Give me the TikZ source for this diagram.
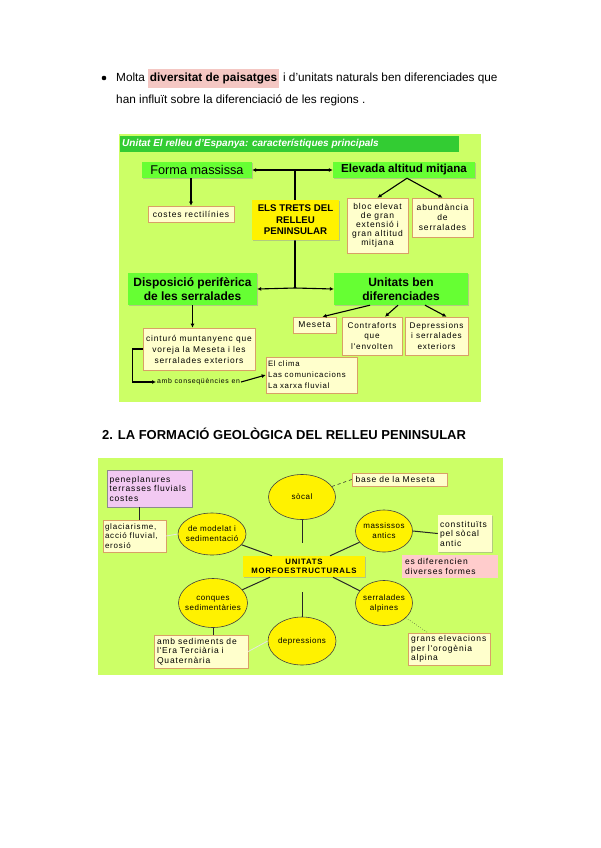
\documentclass[tikz,border=0pt]{standalone}
\usepackage{fontspec}
\setmainfont{Liberation Sans}
\newfontfamily\trk[LetterSpace=10]{Liberation Sans}
\newfontfamily\trke[LetterSpace=6]{Liberation Sans}
\usetikzlibrary{shadows,arrows.meta,shapes.geometric}
\definecolor{bggreen}{HTML}{CCFF66}
\definecolor{titlegreen}{HTML}{33CC33}
\definecolor{hdgreen}{HTML}{66FF33}
\definecolor{cream}{HTML}{FFFFCC}
\definecolor{tanline}{HTML}{D9A066}
\definecolor{hlpink}{HTML}{F4C7C3}
\definecolor{lilac}{HTML}{F2C9F2}
\definecolor{rosebox}{HTML}{FFCCCC}
\tikzset{
 shd/.style={drop shadow={shadow xshift=1.2pt, shadow yshift=-1.2pt, fill=black!40, opacity=0.5}},
 hdbox/.style={fill=hdgreen, draw=none, shd, align=center, inner sep=0pt},
 crbox/.style={fill=cream, draw=tanline, line width=0.6pt, shd, align=center, inner sep=0pt, font=\trk\fontsize{8.5}{9}\selectfont},
 ybox/.style={fill=yellow, draw=none, shd, align=center, inner sep=0pt},
 arr/.style={-{Latex[length=4pt,width=4pt]}, line width=1.1pt},
 ell/.style={ellipse, fill=yellow, draw=black!75, line width=0.6pt, inner sep=0pt},
 ellt/.style={align=center, inner sep=0pt, font=\trke\fontsize{8}{10}\selectfont},
 link/.style={line width=1pt, draw=black!85},
 faint/.style={line width=0.8pt, draw=white!80!gray},
 smbox/.style={fill=cream, draw=tanline, line width=0.5pt, shd, inner sep=0pt, font=\trk\fontsize{8.5}{9.5}\selectfont},
}
\begin{document}
\begin{tikzpicture}[x=1pt,y=-1pt]
\useasboundingbox (0,0) rectangle (600,848);
\fill[white] (0,0) rectangle (600,848);

% ---------- top text ----------
\fill (104,78) circle (2.3);
\node[anchor=base west, inner sep=0pt, font=\fontsize{11.8}{14}\selectfont] (t1a) at (116,82) {Molta};
\node[anchor=base west, fill=hlpink, inner xsep=1.5pt, inner ysep=4pt, font=\bfseries\fontsize{11.8}{14}\selectfont] (t1b) at ([xshift=3pt]t1a.base east) {diversitat de paisatges};
\node[anchor=base west, inner sep=0pt, font=\fontsize{11.8}{14}\selectfont] (t1c) at ([xshift=4pt]t1b.base east) {i d’unitats naturals ben diferenciades que};
\node[anchor=base west, inner sep=0pt, font=\fontsize{11.8}{14}\selectfont] (t2) at (116,103) {han influït sobre la diferenciació de les regions .};

% ---------- diagram 1 ----------
\fill[bggreen] (119,134) rectangle (481,402);
\fill[titlegreen] (120,136) rectangle (459,152);
\node[anchor=west, inner sep=0pt, text=white, font=\bfseries\itshape\fontsize{10}{11}\selectfont] (title) at (122,144) {Unitat El relleu d'Espanya: característiques principals};

\coordinate (jt) at (295,170);
\coordinate (jb) at (295,288);
\draw[line width=1.1pt] (jt) -- (jb);

\node[hdbox, minimum width=110pt, minimum height=16pt, font=\fontsize{12.7}{14}\selectfont] (fm) at (197,170) {Forma massissa};
\node[hdbox, minimum width=142pt, minimum height=16pt, font=\bfseries\fontsize{11.6}{14}\selectfont] (ea) at (404,170) {Elevada altitud mitjana};
\node[crbox, minimum width=86pt, minimum height=16pt] (cr) at (191,214) {costes rectilínies};
\node[ybox, minimum width=87pt, minimum height=40pt, font=\bfseries\fontsize{9.7}{11.5}\selectfont] (trets) at (295.5,220) {ELS TRETS DEL\\RELLEU\\PENINSULAR};
\node[crbox, minimum width=61pt, minimum height=55pt] (be) at (377.5,225.5) {bloc elevat\\de gran\\extensió i\\gran altitud\\mitjana};
\node[crbox, minimum width=61pt, minimum height=39pt, font=\trk\fontsize{8.5}{10}\selectfont] (ab) at (442.5,217.5) {abundància\\de\\serralades};
\node[hdbox, minimum width=129pt, minimum height=32pt, font=\bfseries\fontsize{12}{14}\selectfont] (dp) at (192.5,289) {Disposició perifèrica\\de les serralades};
\node[hdbox, minimum width=134pt, minimum height=32pt, font=\bfseries\fontsize{12}{14}\selectfont] (ub) at (401,289) {Unitats ben\\diferenciades};
\node[crbox, minimum width=43pt, minimum height=16pt] (ms) at (314.5,325) {Meseta};
\node[crbox, minimum width=60pt, minimum height=38pt, font=\trk\fontsize{8.2}{10.5}\selectfont] (cf) at (372,336) {Contraforts\\que\\l'envolten};
\node[crbox, minimum width=63pt, minimum height=38pt, font=\trk\fontsize{8.2}{10.5}\selectfont] (dr) at (436.5,336) {Depressions\\i serralades\\exteriors};
\node[crbox, minimum width=112pt, minimum height=42pt, font=\trk\fontsize{8.4}{11}\selectfont] (ci) at (199,349) {cinturó muntanyenc que\\voreja la Meseta i les\\serralades exteriors};
\node[anchor=west, inner sep=1pt, font=\trk\fontsize{6.9}{8}\selectfont] (amb) at (156,382) {amb conseqüències en};
\node[crbox, minimum width=91pt, minimum height=36pt, align=left, text width=87pt, font=\trk\fontsize{7.8}{11}\selectfont] (ec) at (311.5,375) {El clima\\Las comunicacions\\La xarxa fluvial};

\draw[arr] (jt) -- (fm.east);
\draw[arr] (jt) -- (ea.west);
\draw[arr] (jb) -- (dp.east);
\draw[arr] (jb) -- (ub.west);
\draw[arr] (fm.south -| cr.north) -- (cr.north);
\coordinate (es) at ([xshift=3pt]ea.south);
\draw[arr] (es) -- (be.north);
\draw[arr] (es) -- (ab.north);
\draw[arr] ([xshift=-31pt]ub.south) -- ([xshift=8pt]ms.north);
\draw[arr] ([xshift=-3pt]ub.south) -- ([xshift=13pt]cf.north);
\draw[arr] ([xshift=24pt]ub.south) -- ([xshift=10pt]dr.north);
\draw[arr] (dp.south) -- (dp.south |- ci.north);
\draw[arr] (ci.west) -- ++(-10,0) |- (amb.west);
\draw[arr] (amb.east) -- (ec.west);

% ---------- heading ----------
\node[anchor=base west, inner sep=0pt, font=\bfseries\fontsize{13}{15}\selectfont] (h2) at (102,439) {2. LA FORMACIÓ GEOLÒGICA DEL RELLEU PENINSULAR};

% ---------- diagram 2 ----------
\fill[bggreen] (98,458) rectangle (503,675);

\node[draw=black!45, line width=0.5pt, fill=lilac, shd, minimum width=85pt, minimum height=37pt, inner sep=0pt, align=left, text width=80pt, font=\trk\fontsize{8.5}{9.5}\selectfont] (pn) at (149.5,488.5) {peneplanures\\terrasses fluvials\\costes};
\node[smbox, minimum width=63pt, minimum height=32pt, align=left, text width=59pt, font=\trk\fontsize{8}{9.5}\selectfont] (gl) at (134.5,536) {glaciarisme,\\acció fluvial,\\erosió};
\node[ell, minimum width=68pt, minimum height=42pt, label={[ellt]center:de modelat i\\sedimentació}] (dm) at (212,534) {};
\node[ell, minimum width=67pt, minimum height=45pt, label={[ellt]center:sòcal}] (sc) at (302,497) {};
\node[smbox, minimum width=95pt, minimum height=13pt, align=left, text width=88pt] (bm) at (399.5,479.5) {base de la Meseta};
\node[ell, minimum width=57pt, minimum height=42pt, label={[ellt]center:massissos\\antics}] (ma) at (384,531) {};
\node[smbox, draw=none, minimum width=54pt, minimum height=37pt, align=left, text width=50pt] (ct) at (465,533.5) {constituïts\\pel sòcal\\antic};
\node[draw=none, fill=rosebox, minimum width=96pt, minimum height=23pt, inner sep=0pt, align=left, text width=90pt, font=\trk\fontsize{8.5}{9.5}\selectfont] (ed) at (450,566.5) {es diferencien\\diverses formes};
\node[ybox, minimum width=122pt, minimum height=21pt, font=\trk\bfseries\fontsize{7.8}{9}\selectfont] (um) at (304,566.5) {UNITATS\\MORFOESTRUCTURALS};
\node[ell, minimum width=69pt, minimum height=49pt, label={[ellt]center:conques\\sedimentàries}] (cs) at (213,603) {};
\node[smbox, minimum width=94pt, minimum height=33pt, align=left, text width=88pt] (as) at (201,651.5) {amb sediments de\\l'Era Terciària i\\Quaternària};
\node[ell, minimum width=68pt, minimum height=48pt, label={[ellt]center:depressions}] (dep) at (302,641) {};
\node[ell, minimum width=57pt, minimum height=45pt, label={[ellt]center:serralades\\alpines}] (sa) at (384,603) {};
\node[smbox, minimum width=82pt, minimum height=32pt, align=left, text width=76pt] (ge) at (449,649) {grans elevacions\\per l'orogènia\\alpina};

\coordinate (scend) at (302,543);
\coordinate (depstart) at (302,592);
\draw[link] ([xshift=-10pt]pn.south) -- ([xshift=-10pt]pn.south |- gl.north);
\draw[faint] (gl.east) -- (dm.west);
\draw[link] (dm) -- ([xshift=-32pt]um.north);
\draw[link] (sc.south) -- (scend);
\draw[link] ([xshift=26pt]um.north) -- (ma);
\draw[link] ([xshift=-34pt]um.south) -- (cs);
\draw[link] (depstart) -- (dep.north);
\draw[link] ([xshift=29pt]um.south) -- (sa);
\draw[line width=0.6pt, dashed, black!80] (sc) -- (bm.west);
\draw[link] (ma.east) -- (ct.west);
\draw[link] (cs.south) -- (cs.south |- as.north);
\draw[faint] (as.east) -- (dep.west);
\draw[line width=0.5pt, dotted, black!80] (sa) -- ([xshift=-21pt]ge.north);
\end{tikzpicture}
\end{document}
